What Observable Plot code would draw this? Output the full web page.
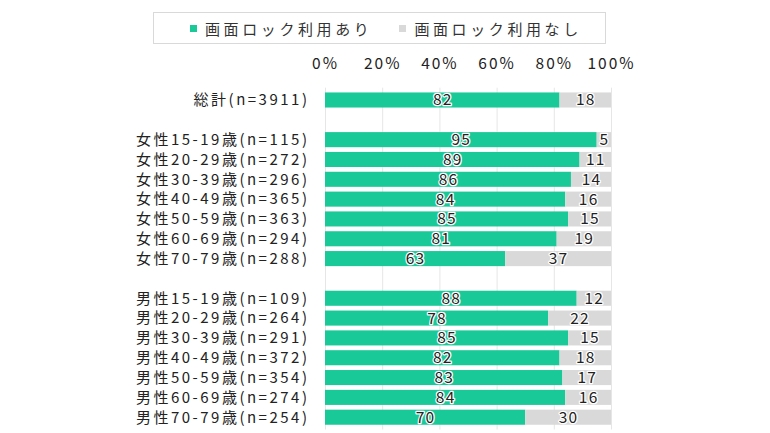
<!DOCTYPE html>
<html><head><meta charset="utf-8">
<script src="https://cdn.jsdelivr.net/npm/d3@7"></script>
<script src="https://cdn.jsdelivr.net/npm/@observablehq/plot@0.6"></script>
<style>
body{margin:0;background:#fff;font-family:"Noto Sans CJK JP","Noto Sans",sans-serif;}
#wrap{position:relative;width:770px;height:433px;}
#legend{position:absolute;left:153px;top:12px;width:453px;height:32px;border:1px solid #d9d9d9;box-sizing:border-box;display:flex;align-items:center;font-size:15px;color:#333;letter-spacing:3.6px;}
.sw{display:inline-block;width:7px;height:7px;margin-right:8px;}
#chart{position:absolute;left:0;top:0;}
</style></head>
<body><div id="wrap"><div id="chart"></div><div id="legend"></div></div>
<script>
const categories = ["総計(n=3911)"," ",
 "女性15-19歳(n=115)","女性20-29歳(n=272)","女性30-39歳(n=296)","女性40-49歳(n=365)","女性50-59歳(n=363)","女性60-69歳(n=294)","女性70-79歳(n=288)","  ",
 "男性15-19歳(n=109)","男性20-29歳(n=264)","男性30-39歳(n=291)","男性40-49歳(n=372)","男性50-59歳(n=354)","男性60-69歳(n=274)","男性70-79歳(n=254)"];
const rowsWithData = categories.filter(c => c.trim() !== "");
const lockOn  = [82, 95,89,86,84,85,81,63, 88,78,85,82,83,84,70];
const lockOff = [18, 5,11,14,16,15,19,37, 12,22,15,18,17,16,30];
const seriesNames = ["画面ロック利用あり","画面ロック利用なし"];
const seriesColors = ["#19c998","#d9d9d9"];
const xTicks = [0,20,40,60,80,100];

const data = [];
rowsWithData.forEach((c,i)=>{
  data.push({cat:c, series:seriesNames[0], value:lockOn[i]});
  data.push({cat:c, series:seriesNames[1], value:lockOff[i]});
});

const font = '"Noto Sans CJK JP","Noto Sans",sans-serif';
const chart = Plot.plot({
  width:770, height:433,
  marginLeft:325, marginRight:159, marginTop:87.7, marginBottom:3.5,
  style:{fontFamily:font, fontSize:"15px", color:"#222", background:"transparent"},
  x:{domain:[0,100], axis:null},
  y:{domain:categories, padding:0.24, round:false, axis:null},
  color:{domain:seriesNames, range:seriesColors},
  marks:[
    Plot.ruleX(xTicks,{stroke:"#e6e6e6", strokeWidth:1}),
    Plot.barX(data, Plot.stackX({x:"value", y:"cat", fill:"series", order:seriesNames})),
    Plot.text(data, Plot.stackX({x:"value", y:"cat", z:"series", order:seriesNames, text:"value", fill:"#222", stroke:"white", strokeWidth:2.5, fontSize:15.5})),
    Plot.text(xTicks,{x:d=>d, text:d=>d+"%", frameAnchor:"top", dy:-30, fill:"#222", fontSize:15.5}),
    Plot.text(rowsWithData,{y:d=>d, text:d=>d, frameAnchor:"left", textAnchor:"end", dx:-16, fill:"#222", fontSize:15})
  ]
});
const groups = d3.select(chart).selectAll('g[aria-label="text"]').nodes();
const spacing = ["1.2px","2px","2.5px"];
groups.forEach((g,i)=>{ g.style.letterSpacing = spacing[i] || "0"; });
document.getElementById("chart").appendChild(chart);

const lg = document.getElementById("legend");
lg.innerHTML = `<span style="margin-left:36px" class="sw"></span><span>${seriesNames[0]}</span><span style="margin-left:27px" class="sw"></span><span>${seriesNames[1]}</span>`;
const sws = lg.querySelectorAll(".sw");
sws[0].style.background = seriesColors[0];
sws[1].style.background = seriesColors[1];
</script></body></html>
